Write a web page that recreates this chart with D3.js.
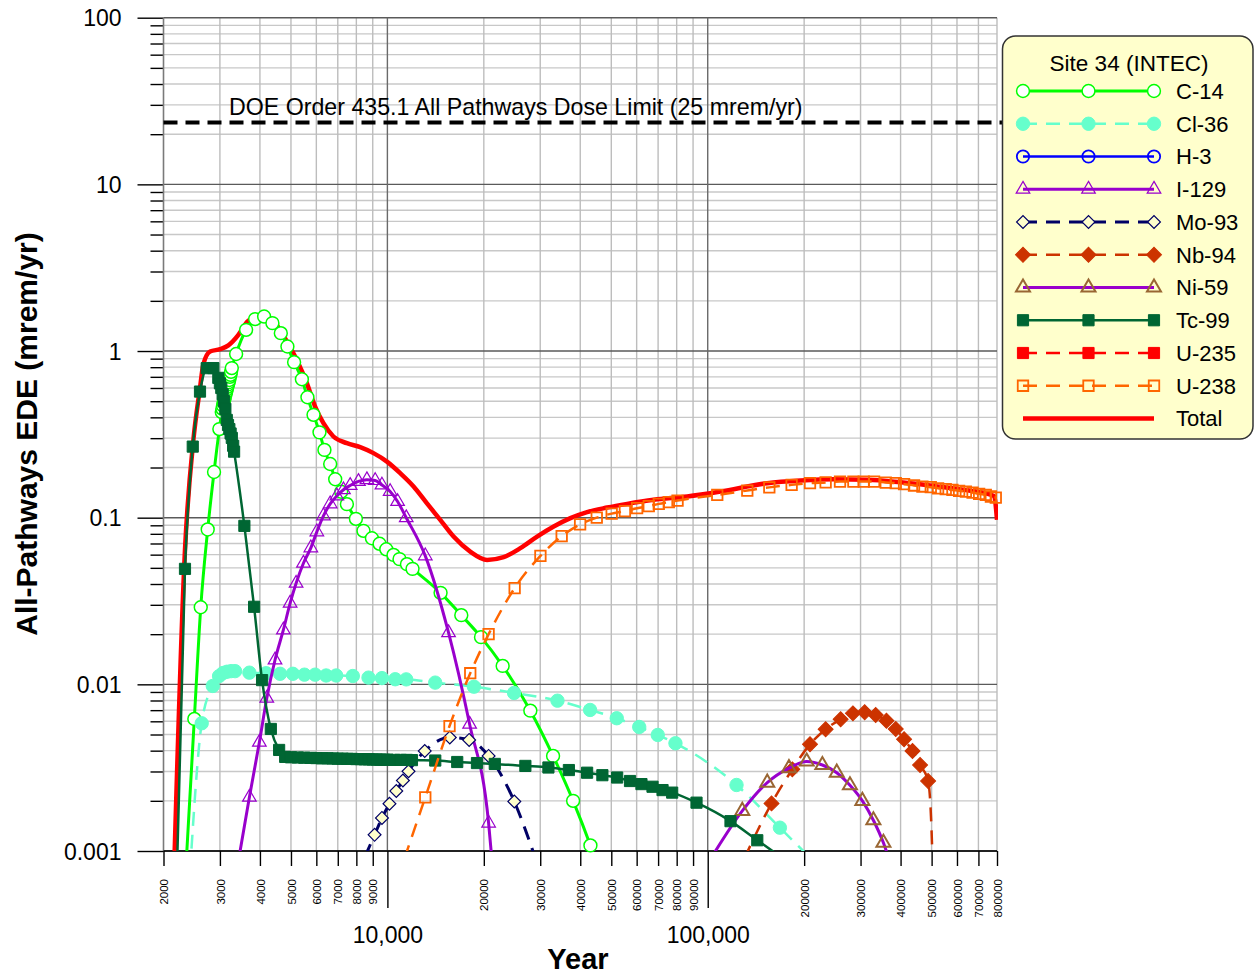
<!DOCTYPE html>
<html><head><meta charset="utf-8">
<script src="https://cdn.jsdelivr.net/npm/d3@7"></script>
<style>
body{margin:0;background:#fff}
svg{display:block}
text{font-family:"Liberation Sans",Arial,sans-serif;fill:#000}
</style>
</head><body>
<svg id="c" width="1255" height="977"></svg>
<script>
// ---------- DATA (year, dose mrem/yr) ----------
const c14 = [[2350,0.0008],[2496,0.0062],[2614,0.029],[2748,0.085],[2876,0.188],[2988,0.34],
 [3040,0.43],[3054,0.45],[3068,0.47],[3082,0.49],[3096,0.51],[3110,0.53],[3124,0.55],[3138,0.57],[3152,0.59],
 [3166,0.61],[3180,0.63],[3194,0.65],[3208,0.67],[3222,0.70],[3236,0.72],[3250,0.75],[3268,0.79],
 [3371,0.96],[3622,1.34],[3864,1.555],[4122,1.61],[4376,1.47],[4648,1.28],[4874,1.064],[5114,0.857],
 [5408,0.677],[5628,0.528],[5880,0.414],[6138,0.325],[6360,0.255],[6628,0.21],[6872,0.17],[7174,0.143],
 [7474,0.1205],[7974,0.0984],[8420,0.0834],[8946,0.0753],[9452,0.0697],[9920,0.0646],[10450,0.0598],
 [10910,0.0564],[11510,0.0526],[11980,0.0493],[14656,0.0354],[17010,0.026],[19600,0.0192],[22900,0.0129],
 [27940,0.00695],[32900,0.00372],[38000,0.002],[43040,0.00108],[46000,0.00075]];
const cl36 = [[2420,0.00075],[2632,0.00584],[2850,0.00978],[2982,0.0112],[3070,0.0117],[3156,0.0119],
 [3250,0.012],[3346,0.012],[3708,0.01175],[4182,0.01166],[4624,0.01157],[5068,0.01157],[5508,0.01143],
 [5948,0.01143],[6438,0.0113],[6920,0.0113],[7800,0.01122],[8730,0.01097],[9616,0.0109],[10580,0.01073],
 [11450,0.01071],[14100,0.01024],[18630,0.00968],[24860,0.00888],[33960,0.00798],[42940,0.00702],
 [52000,0.00626],[61120,0.00555],[69820,0.00497],[79300,0.00443],[123000,0.00249],[168000,0.00138],[210000,0.0009]];
const h3 = [];
const i129 = [[3400,0.0008],[3708,0.0021],[3984,0.00449],[4202,0.00825],[4458,0.014],[4734,0.0212],
 [4970,0.0307],[5188,0.0404],[5468,0.0533],[5768,0.0659],[6022,0.0822],[6314,0.1025],[6628,0.121],
 [6954,0.135],[7292,0.147],[7652,0.156],[8122,0.165],[8630,0.169],[9160,0.167],[9616,0.157],[10200,0.1435],
 [10760,0.125],[11450,0.1],[13130,0.059],[15520,0.0204],[18060,0.00576],[20700,0.00147],[21300,0.0008]];
const mo93 = [[8500,0.00092],[9120,0.00125],[9616,0.00158],[10150,0.00192],[10660,0.00229],[11180,0.00265],
 [11640,0.00301],[13080,0.00398],[15660,0.0048],[18000,0.00464],[20700,0.00372],[24900,0.00198],[29000,0.0009]];
const nb94 = [[130000,0.0009],[158200,0.00193],[183700,0.00309],[208600,0.00437],[233400,0.00538],
 [260000,0.00617],[284000,0.0067],[309000,0.0068],[334500,0.00655],[361400,0.00605],[386400,0.0054],
 [410200,0.00468],[435800,0.00398],[460200,0.00328],[487600,0.00263],[503000,0.0009],[504500,0.00001]];
const ni59 = [[104000,0.00095],[128200,0.00174],[153400,0.00257],[179300,0.00314],[203700,0.00344],
 [228000,0.00328],[252800,0.00295],[278000,0.00248],[304000,0.002],[329000,0.00153],[353600,0.00112],[375000,0.0008]];
const tc99 = [[2190,0.0005],[2334,0.0493],[2468,0.267],[2600,0.571],[2729,0.789],[2862,0.79],[2966,0.69],
 [3000,0.64],[3030,0.6],[3060,0.55],[3090,0.5],[3120,0.45],[3152,0.386],[3180,0.36],[3210,0.34],[3240,0.32],
 [3268,0.301],[3300,0.27],[3322,0.249],[3577,0.0893],[3836,0.0292],[4062,0.0106],[4326,0.0054],[4592,0.00404],
 [4796,0.00367],[5000,0.00365],[5250,0.00364],[5500,0.00363],[5750,0.00362],[6000,0.00361],[6250,0.0036],
 [6500,0.0036],[6750,0.00359],[7000,0.00358],[7250,0.00358],[7500,0.00357],[7750,0.00357],[8000,0.00356],
 [8250,0.00356],[8500,0.00355],[8750,0.00355],[9000,0.00354],[9250,0.00354],[9500,0.00353],[9750,0.00353],
 [10000,0.00353],[10500,0.00352],[11000,0.00352],[11500,0.00352],[11930,0.00351],[14106,0.00349],
 [16520,0.00342],[19040,0.00337],[21640,0.00333],[26960,0.00324],[31820,0.00317],[36860,0.00306],
 [42020,0.00295],[46900,0.00285],[52150,0.00276],[57200,0.00263],[62100,0.00252],[67250,0.00243],
 [72270,0.00232],[77450,0.00224],[92260,0.00195],[117800,0.00151],[142800,0.00116],[175000,0.00088]];
const u235 = [];
const u238 = [[11300,0.0009],[13130,0.0021],[15630,0.00562],[18140,0.01166],[20700,0.02],[24960,0.0378],
 [30040,0.059],[35000,0.0775],[39960,0.0912],[45040,0.1],[50140,0.1058],[55140,0.1095],[60200,0.114],
 [65460,0.1172],[70340,0.121],[75600,0.124],[80500,0.1267],[107100,0.137],[132900,0.1455],[155700,0.152],
 [182800,0.1574],[208600,0.161],[233400,0.1628],[258800,0.1647],[285000,0.1647],[307000,0.1647],[330600,0.1647],
 [359600,0.1625],[386400,0.161],[410200,0.1589],[440600,0.156],[468000,0.1538],[497000,0.1524],[523800,0.15],
 [553400,0.1483],[580800,0.1468],[609200,0.1449],[639600,0.1435],[671200,0.1415],[703600,0.139],
 [738000,0.137],[765600,0.134],[793000,0.132]];
const total = [[2160,0.0008],[2334,0.0641],[2478,0.29],[2600,0.6],[2662,0.83],[2795,0.993],[3003,1.026],
 [3188,1.082],[3426,1.25],[3654,1.503],[3864,1.59],[4122,1.63],[4398,1.52],[4854,1.14],[5214,0.885],
 [5604,0.642],[5948,0.464],[6314,0.369],[6784,0.307],[7474,0.28],[8224,0.265],[9048,0.244],[9968,0.217],
 [10966,0.185],[12070,0.154],[13290,0.122],[14622,0.097],[16090,0.077],[18140,0.0626],[20470,0.0558],
 [23060,0.058],[26000,0.0656],[29330,0.077],[33050,0.0885],[37270,0.0993],[42020,0.108],[48520,0.115],
 [56050,0.121],[67870,0.128],[86300,0.134],[109700,0.1435],[153400,0.161],[195000,0.167],[247800,0.17],
 [315200,0.169],[400600,0.163],[508900,0.155],[647200,0.146],[783400,0.135],[800000,0.097]];

const seriesNames = ["C-14","Cl-36","H-3","I-129","Mo-93","Nb-94","Ni-59","Tc-99","U-235","U-238","Total"];
const drawOrder = ["Total","C-14","Cl-36","H-3","I-129","Mo-93","Nb-94","Ni-59","Tc-99","U-235","U-238"];
const doseLimit = 23.5;
const doseLimitLabel = "DOE Order 435.1 All Pathways Dose Limit (25 mrem/yr)";
const legendTitle = "Site 34 (INTEC)";
const xMinorTicks = [2000,3000,4000,5000,6000,7000,8000,9000,20000,30000,40000,50000,60000,70000,80000,90000,
 200000,300000,400000,500000,600000,700000,800000];
const xMajorTicks = [10000,100000];
const xMajorLabels = ["10,000","100,000"];
const yMajorTicks = [0.001,0.01,0.1,1,10,100];
const yMajorLabels = ["0.001","0.01","0.1","1","10","100"];
const xTitle = "Year";
const yTitle = "All-Pathways EDE (mrem/yr)";

// ---------- STYLES ----------
const styles = {
 "C-14": {data:c14, color:"#00ff00", w:3, dash:null, sym:"circle", size:130, fill:"#ffffff", stroke:"#00ff00", sw:1.5},
 "Cl-36":{data:cl36, color:"#66ffcc", w:2.5, dash:"14,9", sym:"circle", size:140, fill:"#66ffcc", stroke:"#66ffcc", sw:1},
 "H-3":  {data:h3, color:"#0000ff", w:2.5, dash:null, sym:"circle", size:120, fill:"none", stroke:"#0000ff", sw:1.8},
 "I-129":{data:i129, color:"#9900cc", w:3, dash:null, sym:"triangle", size:80, fill:"none", stroke:"#9900cc", sw:1.2},
 "Mo-93":{data:mo93, color:"#000066", w:3, dash:"14,9", sym:"diamond", size:82, fill:"#ffffcc", stroke:"#000066", sw:1.2},
 "Nb-94":{data:nb94, color:"#cc3300", w:2.5, dash:"14,9", sym:"diamond", size:112, fill:"#cc3300", stroke:"#cc3300", sw:1},
 "Ni-59":{data:ni59, color:"#9900cc", w:3, dash:null, sym:"triangle", size:85, fill:"none", stroke:"#996633", sw:2},
 "Tc-99":{data:tc99, color:"#006633", w:2.5, dash:null, sym:"square", size:125, fill:"#006633", stroke:"#006633", sw:1},
 "U-235":{data:u235, color:"#ff0000", w:2.5, dash:"14,9", sym:"square", size:125, fill:"#ff0000", stroke:"#ff0000", sw:1},
 "U-238":{data:u238, color:"#ff6600", w:2.5, dash:"14,9", sym:"square", size:110, fill:"none", stroke:"#ff6600", sw:1.8},
 "Total":{data:total, color:"#ff0000", w:4.5, dash:null, sym:null}
};

// ---------- SCALES ----------
const L=163.5, R=997, T=17.7, B=851;
const x = d3.scaleLog().domain([2000,800000]).range([L,R]);
const y = d3.scaleLog().domain([0.001,100]).range([B,T]);
const svg = d3.select("#c");

// grid
const yAll = y.ticks().filter(v => v>=0.001 && v<=100);
const isMajorY = v => Math.abs(Math.log10(v)-Math.round(Math.log10(v)))<1e-9;
const grid = svg.append("g");
grid.selectAll("line.hy").data(yAll.filter(v=>!isMajorY(v))).join("line")
 .attr("x1",L).attr("x2",R).attr("y1",d=>y(d)).attr("y2",d=>y(d))
 .attr("stroke","#c8c8c8").attr("stroke-width",1.4);
grid.selectAll("line.vx").data(xMinorTicks.slice(1)).join("line")
 .attr("x1",d=>x(d)).attr("x2",d=>x(d)).attr("y1",T).attr("y2",B)
 .attr("stroke","#bdbdbd").attr("stroke-width",1.4);
grid.selectAll("line.hY").data(yMajorTicks).join("line")
 .attr("x1",L).attr("x2",R).attr("y1",d=>y(d)).attr("y2",d=>y(d))
 .attr("stroke","#5a5a5a").attr("stroke-width",1.4);
grid.selectAll("line.vX").data(xMajorTicks).join("line")
 .attr("x1",d=>x(d)).attr("x2",d=>x(d)).attr("y1",T).attr("y2",B)
 .attr("stroke","#6a6a6a").attr("stroke-width",1.4);

// axes
const yMinorAxis = svg.append("g").attr("transform",`translate(${L},0)`)
 .call(d3.axisLeft(y).tickValues(yAll.filter(v=>!isMajorY(v))).tickSize(13).tickFormat(""));
const yAxis = svg.append("g").attr("transform",`translate(${L},0)`)
 .call(d3.axisLeft(y).tickValues(yMajorTicks).tickSize(26).tickPadding(16).tickFormat((d,i)=>yMajorLabels[i]));
yAxis.selectAll("text").style("font-size","23px").attr("dy","0.36em");
const xMinorAxis = svg.append("g").attr("transform",`translate(0,${B})`)
 .call(d3.axisBottom(x).tickValues(xMinorTicks).tickSize(15).tickFormat(d=>String(d)));
xMinorAxis.selectAll("text").attr("transform","rotate(-90)").attr("x",-28).attr("y",0)
 .attr("dy","0.36em").style("text-anchor","end").style("font-size","11.5px");
const xMajorAxis = svg.append("g").attr("transform",`translate(0,${B})`)
 .call(d3.axisBottom(x).tickValues(xMajorTicks).tickSize(57).tickPadding(19).tickFormat((d,i)=>xMajorLabels[i]));
xMajorAxis.selectAll("text").style("font-size","23px");
[yMinorAxis,yAxis,xMinorAxis,xMajorAxis].forEach(g=>{
 g.select(".domain").remove();
 g.selectAll(".tick line").attr("stroke","#000").attr("stroke-width",1.4);
});
svg.append("line").attr("x1",L).attr("x2",L).attr("y1",T).attr("y2",B).attr("stroke","#7a7a7a").attr("stroke-width",1.6);
svg.append("line").attr("x1",L).attr("x2",R).attr("y1",B).attr("y2",B).attr("stroke","#000").attr("stroke-width",1.6);

// titles
svg.append("text").attr("x",578).attr("y",969).attr("text-anchor","middle")
 .style("font-size","29px").style("font-weight","bold").text(xTitle);
svg.append("text").attr("transform","translate(37,434) rotate(-90)").attr("text-anchor","middle")
 .style("font-size","30px").style("font-weight","bold").text(yTitle);

// dose limit
svg.append("line").attr("x1",L).attr("x2",1002).attr("y1",y(doseLimit)).attr("y2",y(doseLimit))
 .attr("stroke","#000").attr("stroke-width",4).attr("stroke-dasharray","14,8");
svg.append("text").attr("x",229).attr("y",115).style("font-size","23.2px").text(doseLimitLabel);

// clip
svg.append("clipPath").attr("id","pc").append("rect").attr("x",L).attr("y",T).attr("width",R-L+1).attr("height",B-T);

function symPath(s,size){
 if(s==="circle") return d3.symbol().type(d3.symbolCircle).size(size)();
 if(s==="triangle") return d3.symbol().type(d3.symbolTriangle).size(size)();
 if(s==="square"||s==="diamond") return d3.symbol().type(d3.symbolSquare).size(size)();
}
function drawMarker(g, st, cx, cy){
 g.append("path").attr("d",symPath(st.sym,st.size))
  .attr("transform",`translate(${cx},${cy})`+(st.sym==="diamond"?" rotate(45)":""))
  .attr("fill",st.fill).attr("stroke",st.stroke).attr("stroke-width",st.sw);
}

const line = d3.line().x(d=>x(d[0])).y(d=>y(d[1])).curve(d3.curveMonotoneX);
const plot = svg.append("g");
drawOrder.forEach(n=>{
 const st = styles[n];
 if(!st.data.length) return;
 plot.append("path").attr("clip-path","url(#pc)").attr("d",line(st.data))
  .attr("fill","none").attr("stroke",st.color).attr("stroke-width",st.w)
  .attr("stroke-dasharray",st.dash).attr("stroke-linejoin","round");
 if(st.sym){
  const mg = plot.append("g");
  st.data.filter(d=>d[1]>=0.001 && d[1]<=100).forEach(d=>drawMarker(mg,st,x(d[0]),y(d[1])));
 }
});

// legend
const lg = svg.append("g");
lg.append("rect").attr("x",1002.5).attr("y",36).attr("width",250.5).attr("height",403).attr("rx",13)
 .attr("fill","#ffffcc").attr("stroke","#333").attr("stroke-width",1.5);
lg.append("text").attr("x",1129).attr("y",71).attr("text-anchor","middle").style("font-size","22.5px").text(legendTitle);
seriesNames.forEach((n,i)=>{
 const st = styles[n];
 const cy = 91 + i*32.75;
 lg.append("line").attr("x1",1023).attr("x2",1154).attr("y1",cy).attr("y2",cy)
  .attr("stroke",st.color).attr("stroke-width",st.w).attr("stroke-dasharray",st.dash);
 if(st.sym) [1023,1088.5,1154].forEach(cx=>drawMarker(lg,st,cx,cy));
 lg.append("text").attr("x",1176).attr("y",cy).attr("dy","0.36em").style("font-size","22px").text(n);
});
</script>
</body></html>
